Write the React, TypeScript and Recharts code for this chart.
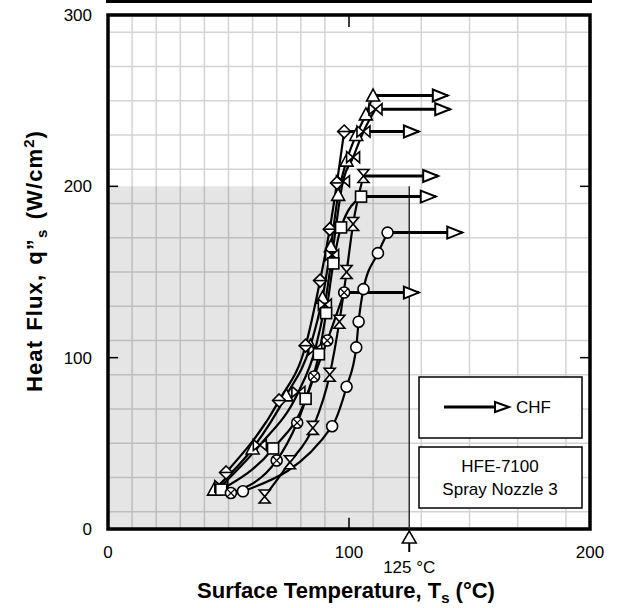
import React from "react";
import {
  ComposedChart,
  Line,
  XAxis,
  YAxis,
  CartesianGrid,
  ReferenceArea,
  ReferenceLine,
  ReferenceDot,
  Label,
} from "recharts";

// surface temperature (°C) / heat flux (W/cm2) for each run
const tempA = [44, 60, 74, 84, 89, 92.5, 95.5, 99, 103, 107, 110];
const fluxA = [23, 47, 78, 107, 135, 165, 195, 215, 230, 242, 253];
const tempB = [47, 63, 79, 86, 90, 93, 97.5, 101.7, 106, 111];
const fluxB = [25, 49, 80, 105, 131, 160, 203, 217, 232, 245];
const tempC = [49, 71, 82, 88, 92, 95, 98];
const fluxC = [33, 75, 107, 145, 175, 202, 232];
const tempD = [65, 75.5, 85, 92, 96, 99, 101.7, 106];
const fluxD = [19, 39, 59, 90, 121, 150, 178, 206];
const tempE = [47, 68.5, 82, 87.5, 90.5, 93.5, 96.7, 105];
const fluxE = [23, 47, 76, 102, 126, 155, 176, 194];
const tempF = [56, 93, 99, 103, 104, 106, 112, 116];
const fluxF = [22, 60, 83, 106, 121, 140, 161, 173];
const tempG = [51, 70, 78.5, 85.5, 91, 98];
const fluxG = [21, 40, 62, 89, 110, 138];

// CHF points (last point of each run) and the arrow length in °C
const chfTemp = [110, 111, 98, 106, 105, 116, 98];
const chfFlux = [253, 245, 232, 206, 194, 173, 138];
const arrowLen = 31;

const xTicks = [0, 100, 200];
const yTicks = [0, 100, 200, 300];
const gridX = [10, 20, 30, 40, 50, 60, 70, 80, 90, 100, 110, 120, 130, 140, 150, 160, 170, 180, 190];
const gridY = [
  10, 20, 30, 40, 50, 60, 70, 80, 90, 100, 110, 120, 130, 140, 150, 160, 170, 180, 190, 200,
  210, 220, 230, 240, 250, 260, 270, 280, 290,
];

const zip = (t: number[], q: number[]) => t.map((v, i) => ({ t: v, q: q[i] }));

const series = [
  { data: zip(tempA, fluxA), kind: "up" },
  { data: zip(tempB, fluxB), kind: "bowH" },
  { data: zip(tempC, fluxC), kind: "diamond" },
  { data: zip(tempD, fluxD), kind: "bowV" },
  { data: zip(tempE, fluxE), kind: "square" },
  { data: zip(tempF, fluxF), kind: "circle" },
  { data: zip(tempG, fluxG), kind: "ox" },
];

const arrows = chfTemp.map((t, i) => [
  { t, q: chfFlux[i] },
  { t: t + arrowLen, q: chfFlux[i] },
]);

const FONT = "'Liberation Sans', Arial, sans-serif";

function Marker({ cx, cy, kind }: { cx: number; cy: number; kind: string }) {
  const s = { fill: "#fff", stroke: "#000", strokeWidth: 1.6 };
  const r = 6.5;
  switch (kind) {
    case "up":
      return <polygon points={`${cx},${cy - r} ${cx + r},${cy + r - 1} ${cx - r},${cy + r - 1}`} {...s} />;
    case "bowH":
      return (
        <polygon
          points={`${cx - r},${cy - r + 1} ${cx + r},${cy + r - 1} ${cx + r},${cy - r + 1} ${cx - r},${cy + r - 1}`}
          {...s}
        />
      );
    case "bowV":
      return (
        <polygon
          points={`${cx - r + 1},${cy - r} ${cx + r - 1},${cy - r} ${cx - r + 1},${cy + r} ${cx + r - 1},${cy + r}`}
          {...s}
        />
      );
    case "diamond":
      return (
        <g>
          <polygon points={`${cx},${cy - r} ${cx + r},${cy} ${cx},${cy + r} ${cx - r},${cy}`} {...s} />
          <line x1={cx - r} y1={cy} x2={cx + r} y2={cy} stroke="#000" strokeWidth={1.6} />
        </g>
      );
    case "square":
      return <rect x={cx - 5.5} y={cy - 5.5} width={11} height={11} {...s} />;
    case "circle":
      return <circle cx={cx} cy={cy} r={5.5} {...s} />;
    default:
      return (
        <g>
          <circle cx={cx} cy={cy} r={5.5} {...s} />
          <line x1={cx - 3.9} y1={cy - 3.9} x2={cx + 3.9} y2={cy + 3.9} stroke="#000" strokeWidth={1.3} />
          <line x1={cx - 3.9} y1={cy + 3.9} x2={cx + 3.9} y2={cy - 3.9} stroke="#000" strokeWidth={1.3} />
        </g>
      );
  }
}

function XTick({ x, y, payload }: any) {
  return (
    <text x={x} y={y + 21} textAnchor="middle" fontSize={17} fontFamily={FONT} fill="#000">
      {payload.value}
    </text>
  );
}

function YTick({ x, y, payload }: any) {
  return (
    <text x={x - 8} y={y + 6} textAnchor="end" fontSize={17} fontFamily={FONT} fill="#000">
      {payload.value}
    </text>
  );
}

function Marker125({ cx, cy }: any) {
  return (
    <g>
      <polygon
        points={`${cx},${cy + 2} ${cx + 7},${cy + 14} ${cx - 7},${cy + 14}`}
        fill="#fff"
        stroke="#000"
        strokeWidth={1.5}
      />
      <line x1={cx} y1={cy + 14} x2={cx} y2={cy + 23} stroke="#000" strokeWidth={2} />
      <text x={cx} y={cy + 44} textAnchor="middle" fontSize={17} fontFamily={FONT} fill="#000">
        125 °C
      </text>
    </g>
  );
}

export default function App() {
  return (
    <div style={{ position: "absolute", left: 0, top: 0, width: 618, height: 608, background: "#fff" }}>
      <ComposedChart width={618} height={608} margin={{ top: 15, right: 28, bottom: 49, left: 58 }}>
        <CartesianGrid
          stroke="#d4d4d4"
          strokeWidth={1.5}
          verticalValues={gridX}
          horizontalValues={gridY}
        />
        <XAxis
          dataKey="t"
          type="number"
          domain={[0, 200]}
          ticks={xTicks}
          tick={<XTick />}
          tickLine={false}
          axisLine={false}
          height={30}
          allowDataOverflow
        >
          <Label
            content={() => (
              <text x={346} y={598} textAnchor="middle" fontSize={22} fontWeight="bold" fontFamily={FONT}>
                Surface Temperature, T
                <tspan fontSize={15} dy={5}>s</tspan>
                <tspan dy={-5}> (°C)</tspan>
              </text>
            )}
          />
        </XAxis>
        <YAxis
          dataKey="q"
          type="number"
          domain={[0, 300]}
          ticks={yTicks}
          tick={<YTick />}
          tickLine={false}
          axisLine={false}
          width={50}
          allowDataOverflow
        >
          <Label
            content={() => (
              <text
                transform="translate(42,261) rotate(-90)"
                textAnchor="middle"
                fontSize={22}
                fontWeight="bold"
                fontFamily={FONT}
                letterSpacing={1.1}
                wordSpacing={2}
              >
                Heat Flux, q”
                <tspan fontSize={15} dy={5}>s</tspan>
                <tspan dy={-5}>{"  (W/cm"}</tspan>
                <tspan fontSize={15} dy={-8}>2</tspan>
                <tspan dy={8}>)</tspan>
              </text>
            )}
          />
        </YAxis>

        <ReferenceArea x1={0} x2={125} y1={0} y2={200} fill="#000" fillOpacity={0.1} stroke="none" />
        <ReferenceLine segment={[{ x: 125, y: 0 }, { x: 125, y: 200 }]} stroke="#333" strokeWidth={1.5} />

        {/* inner ticks */}
        <ReferenceLine segment={[{ x: 100, y: 300 }, { x: 100, y: 293 }]} stroke="#000" strokeWidth={1.5} />
        <ReferenceLine segment={[{ x: 100, y: 0 }, { x: 100, y: 6.5 }]} stroke="#000" strokeWidth={1.5} />
        <ReferenceLine segment={[{ x: 0, y: 100 }, { x: 4.2, y: 100 }]} stroke="#000" strokeWidth={1.5} />
        <ReferenceLine segment={[{ x: 0, y: 200 }, { x: 4.2, y: 200 }]} stroke="#000" strokeWidth={1.5} />
        <ReferenceLine segment={[{ x: 200, y: 100 }, { x: 195.8, y: 100 }]} stroke="#000" strokeWidth={1.5} />
        <ReferenceLine segment={[{ x: 200, y: 200 }, { x: 195.8, y: 200 }]} stroke="#000" strokeWidth={1.5} />

        {arrows.map((d, i) => (
          <Line
            key={`chf${i}`}
            data={d}
            dataKey="q"
            stroke="#000"
            strokeWidth={3}
            isAnimationActive={false}
            dot={(p: any) =>
              p.index === 1 ? (
                <polygon
                  key={p.index}
                  points={`${p.cx - 15},${p.cy - 6} ${p.cx},${p.cy} ${p.cx - 15},${p.cy + 6}`}
                  fill="#fff"
                  stroke="#000"
                  strokeWidth={2}
                />
              ) : (
                <g key={p.index} />
              )
            }
            activeDot={false}
          />
        ))}

        {series.map((s, i) => (
          <Line
            key={`run${i}`}
            data={s.data}
            dataKey="q"
            type="monotone"
            stroke="#000"
            strokeWidth={2.2}
            isAnimationActive={false}
            dot={(p: any) => <Marker key={p.index} cx={p.cx} cy={p.cy} kind={s.kind} />}
            activeDot={false}
          />
        ))}

        <ReferenceDot x={125} y={0} r={0} ifOverflow="visible" shape={<Marker125 />} />
        <ReferenceArea x1={0} x2={200} y1={0} y2={300} fill="none" stroke="#000" strokeWidth={3.5} />
      </ComposedChart>

      <svg
        width={618}
        height={608}
        style={{ position: "absolute", left: 0, top: 0, pointerEvents: "none" }}
      >
        <line x1={106} y1={1.5} x2={592} y2={1.5} stroke="#000" strokeWidth={3} />
        <rect x={419} y={377} width={163} height={61} fill="#fff" stroke="#000" strokeWidth={1.5} />
        <line x1={444} y1={407} x2={497} y2={407} stroke="#000" strokeWidth={3} />
        <polygon points="495,402 509,407 495,412" fill="#fff" stroke="#000" strokeWidth={2} />
        <text x={516} y={413} fontSize={17} fontFamily={FONT}>
          CHF
        </text>
        <rect x={419} y={447} width={163} height={61} fill="#fff" stroke="#000" strokeWidth={1.5} />
        <text x={500} y={472} textAnchor="middle" fontSize={17} fontFamily={FONT}>
          HFE-7100
        </text>
        <text x={500} y={495} textAnchor="middle" fontSize={17} fontFamily={FONT}>
          Spray Nozzle 3
        </text>
      </svg>
    </div>
  );
}
